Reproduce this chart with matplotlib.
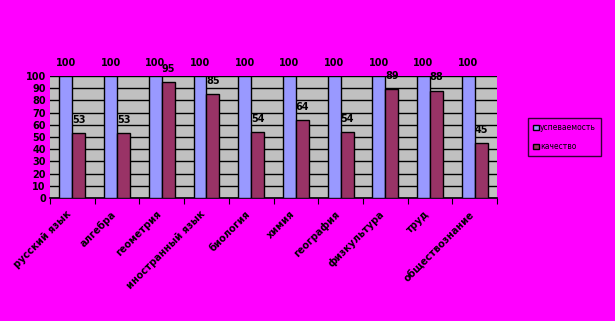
import numpy as np
import matplotlib.pyplot as plt
import matplotlib.transforms as mtransforms

subjects = ['русский язык', 'алгебра', 'геометрия', 'иностранный язык', 'биология',
            'химия', 'география', 'физкультура', 'труд', 'обществознание']
uspevaemost = [100, 100, 100, 100, 100, 100, 100, 100, 100, 100]
kachestvo = [53, 53, 95, 85, 54, 64, 54, 89, 88, 45]

fig = plt.figure(figsize=(6.15, 3.21), dpi=100, facecolor='#FF00FF')
ax = fig.add_axes([0.0813, 0.383, 0.727, 0.380])
ax.set_facecolor('#C0C0C0')

x = np.arange(len(subjects))
w = 0.29
b1 = ax.bar(x - w / 2, uspevaemost, w, color='#9999FF', edgecolor='black', linewidth=1,
            label='успеваемость', zorder=3)
b2 = ax.bar(x + w / 2, kachestvo, w, color='#993366', edgecolor='black', linewidth=1,
            label='качество', zorder=3)

for xi, v in zip(x, uspevaemost):
    ax.text(xi - w / 2, v + 11, str(v), ha='center', va='center', fontsize=7,
            fontweight='bold', clip_on=False)
for xi, v in zip(x, kachestvo):
    ax.text(xi + w / 2, v + 11, str(v), ha='center', va='center', fontsize=7,
            fontweight='bold', clip_on=False)

ax.set_xlim(-0.5, len(subjects) - 0.5)
ax.set_ylim(0, 100)
ax.set_yticks(range(0, 101, 10))
ax.tick_params(axis='y', length=0, labelsize=7, pad=3)
for lbl in ax.get_yticklabels():
    lbl.set_fontweight('bold')
ax.yaxis.grid(True, color='black', linewidth=1, zorder=1)

ax.set_xticks(np.arange(-0.5, len(subjects) + 0.5, 1))
ax.set_xticklabels([])
ax.tick_params(axis='x', length=4, direction='out', color='black')
ax.set_xticks(x, minor=True)
ax.set_xticklabels(subjects, minor=True, rotation=45, ha='right', va='top',
                   fontsize=7, fontweight='bold', rotation_mode='anchor')
ax.tick_params(axis='x', which='minor', length=0, pad=8)
shift = mtransforms.ScaledTranslation(-6 / 100, 0, fig.dpi_scale_trans)
for lbl in ax.get_xticklabels(minor=True):
    lbl.set_transform(lbl.get_transform() + shift)

for s in ['top', 'right', 'left']:
    ax.spines[s].set_visible(False)
ax.spines['bottom'].set_color('black')
ax.spines['bottom'].set_linewidth(1.2)

leg = fig.legend(handles=[b1, b2], loc='center', bbox_to_anchor=(0.918, 0.573),
                 fontsize=5.5, frameon=True, fancybox=False, facecolor='#FF00FF',
                 edgecolor='black', handlelength=0.7, handleheight=0.7,
                 handletextpad=0.2, labelspacing=1.3, borderpad=0.7)
leg.get_frame().set_linewidth(1)

fig.savefig('out.png', dpi=100, facecolor=fig.get_facecolor())
